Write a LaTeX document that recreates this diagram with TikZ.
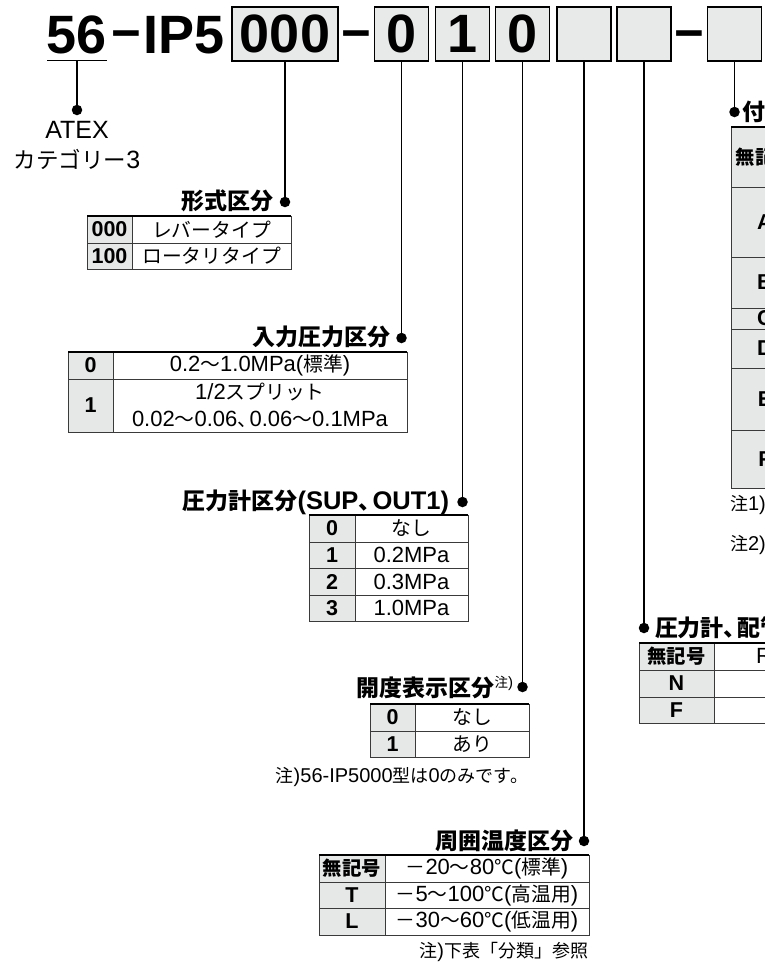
\documentclass[tikz,border=0pt]{standalone}
\usepackage{fontspec}
\setmainfont{Liberation Sans}
\newfontfamily\jp[Scale=0.9]{Noto Sans CJK JP}
\newcommand\J[1]{{\jp #1}}
\newcommand\fs[1]{\fontsize{#1}{#1}\selectfont}
\newcommand\tenc{\J{、}\kern-0.35em}
\definecolor{boxgray}{HTML}{E8E9E9}
\definecolor{keygray}{HTML}{E6E7E7}
\definecolor{tgray}{HTML}{3A3A3A}
\begin{document}
\begin{tikzpicture}[x=1pt,y=-1pt,
  every node/.style={inner sep=0pt, outer sep=0pt},
  codebox/.style={draw=black, line width=1.8pt, fill=boxgray, minimum width=54pt, minimum height=54pt, font=\fs{54}\bfseries},
  dashtxt/.style={font=\fs{51}\bfseries, anchor=base},
  conn/.style={line width=1.6pt, draw=black},
  dotn/.style={circle, fill=black, minimum size=10.5pt},
  lbl/.style={font=\fs{25.5}\bfseries},
  keyt/.style={font=\fs{21.5}\bfseries},
  valt/.style={font=\fs{22}},
  notet/.style={font=\fs{20}},
  tline/.style={line width=1pt, draw=tgray},
  ttop/.style={line width=1.8pt, draw=black},
]
\useasboundingbox (0,0) rectangle (765,962);
\clip (0,0) rectangle (765,962);

% ---------- model code ----------
\node[font=\fs{54}\bfseries, anchor=base] (t56) at (77,53) {56};
\node[dashtxt] (d1) at (126,50) {−};
\node[font=\fs{54}\bfseries, anchor=base west] (tip) at (143,53) {IP5};
\node[codebox, minimum width=106pt] (b000) at (285,34) {000};
\node[dashtxt] (d2) at (356.5,50) {−};
\node[codebox] (b0) at (401.5,34) {0};
\node[codebox] (b1) at (462.5,34) {1};
\node[codebox] (b0b) at (522.5,34) {0};
\node[codebox] (bx1) at (584,34) {};
\node[codebox] (bx2) at (644,34) {};
\node[dashtxt] (d3) at (689.5,50) {−};
\node[codebox] (bx3) at (734.5,34) {};
\draw[line width=1.5pt] (47,60.5) -- (107,60.5);
\coordinate (ul) at (77,60.5);

% ---------- dots ----------
\node[dotn] (p56) at (77,110) {};
\node[dotn] (p1) at (285,202) {};
\node[dotn] (p2) at (401.5,338) {};
\node[dotn] (p3) at (462.5,502) {};
\node[dotn] (p4) at (522.5,687) {};
\node[dotn] (p5) at (584,841) {};
\node[dotn] (p6) at (644,628) {};
\node[dotn] (p7) at (734.5,112) {};

\draw[conn] (ul) -- (p56.center);
\draw[conn] (b000.south) -- (p1.center);
\draw[conn] (b0.south) -- (p2.center);
\draw[conn] (b1.south) -- (p3.center);
\draw[conn] (b0b.south) -- (p4.center);
\draw[conn] (bx1.south) -- (p5.center);
\draw[conn] (bx2.south) -- (p6.center);
\draw[conn] (bx3.south) -- (p7.center);

% ---------- labels ----------
\node[font=\fs{25}, anchor=base] (atex) at (77,138) {ATEX};
\node[font=\fs{25}, anchor=base] (atex2) at (77,168) {\J{カテゴリー}3};
\node[lbl, anchor=east] (l1) at (273,201) {\J{形式区分}};
\node[lbl, anchor=east] (l2) at (390,337) {\J{入力圧力区分}};
\node[lbl, anchor=east] (l3) at (449,502) {\J{圧力計区分}(SUP\tenc OUT1)};
\node[lbl, anchor=east] (l4) at (513,687) {\J{開度表示区分}\raisebox{9pt}{\mdseries\fs{15}\J{注})}};
\node[lbl, anchor=east] (l5) at (573,841) {\J{周囲温度区分}};
\node[lbl, anchor=west] (l6) at (655,628) {\J{圧力計}\tenc\J{配管}};
\node[lbl, anchor=west] (l7) at (742,112) {\J{付}};

% ---------- T1 形式区分 ----------
\fill[keygray] (87,216) rectangle (132,269);
\draw[tline] (87,216) rectangle (291,269);
\draw[tline] (132,216) -- (132,269) (87,243) -- (291,243);
\draw[ttop] (87,216) -- (291,216);
\node[keyt] (t1k1) at (109.5,229.5) {000};
\node[keyt] (t1k2) at (109.5,256) {100};
\node[valt] (t1v1) at (211.5,229.5) {\J{レバータイプ}};
\node[valt] (t1v2) at (211.5,256) {\J{ロータリタイプ}};

% ---------- T2 入力圧力区分 ----------
\fill[keygray] (68,352) rectangle (113,432);
\draw[tline] (68,352) rectangle (407,432);
\draw[tline] (113,352) -- (113,432) (68,379) -- (407,379);
\draw[ttop] (68,352) -- (407,352);
\node[keyt] (t2k1) at (90.5,365.5) {0};
\node[keyt] (t2k2) at (90.5,405.5) {1};
\node[valt] (t2v1) at (260,365.5) {0.2\J{～}1.0MPa(\J{標準})};
\node[font=\fontsize{22}{27}\selectfont, align=center] (t2v2) at (260,405.5) {1/2\J{スプリット}\\0.02\J{～}0.06\tenc 0.06\J{～}0.1MPa};

% ---------- T3 圧力計区分 ----------
\fill[keygray] (309,515) rectangle (355,621);
\draw[tline] (309,515) rectangle (468,621);
\draw[tline] (355,515) -- (355,621) (309,542) -- (468,542) (309,568) -- (468,568) (309,595) -- (468,595);
\draw[ttop] (309,515) -- (468,515);
\node[keyt] (t3k1) at (332,528.5) {0};
\node[keyt] (t3k2) at (332,555) {1};
\node[keyt] (t3k3) at (332,581.5) {2};
\node[keyt] (t3k4) at (332,608) {3};
\node[valt] (t3v1) at (411.5,528.5) {\J{なし}};
\node[valt] (t3v2) at (411.5,555) {0.2MPa};
\node[valt] (t3v3) at (411.5,581.5) {0.3MPa};
\node[valt] (t3v4) at (411.5,608) {1.0MPa};

% ---------- T4 開度表示区分 ----------
\fill[keygray] (370,704) rectangle (415,757);
\draw[tline] (370,704) rectangle (529,757);
\draw[tline] (415,704) -- (415,757) (370,731) -- (529,731);
\draw[ttop] (370,704) -- (529,704);
\node[keyt] (t4k1) at (392.5,717.5) {0};
\node[keyt] (t4k2) at (392.5,744) {1};
\node[valt] (t4v1) at (472,717.5) {\J{なし}};
\node[valt] (t4v2) at (472,744) {\J{あり}};
\node[notet, anchor=east] (n4) at (528,777) {\J{注})56-IP5000\J{型は}0\J{のみです。}};

% ---------- T5 周囲温度区分 ----------
\fill[keygray] (319,855) rectangle (385,935);
\draw[tline] (319,855) rectangle (589,935);
\draw[tline] (385,855) -- (385,935) (319,882) -- (589,882) (319,908) -- (589,908);
\draw[ttop] (319,855) -- (589,855);
\node[keyt] (t5k1) at (352,868.5) {\J{無記号}};
\node[keyt] (t5k2) at (352,895) {T};
\node[keyt] (t5k3) at (352,921.5) {L};
\node[valt] (t5v1) at (487,868.5) {\J{－}20\J{～}80\J{℃}(\J{標準})};
\node[valt] (t5v2) at (487,895) {\J{－}5\J{～}100\J{℃}(\J{高温用})};
\node[valt] (t5v3) at (487,921.5) {\J{－}30\J{～}60\J{℃}(\J{低温用})};
\node[notet, anchor=east] (n5) at (588,952) {\J{注})\J{下表「分類」参照}};

% ---------- T6 付 (cut at right edge) ----------
\fill[keygray] (731,127) rectangle (799,488);
\draw[tline] (731,127) rectangle (900,488);
\draw[tline] (799,127) -- (799,488)
  (731,187) -- (900,187) (731,257) -- (900,257) (731,308) -- (900,308)
  (731,329) -- (900,329) (731,368) -- (900,368) (731,430) -- (900,430);
\draw[ttop] (731,127) -- (900,127);
\node[keyt] (t6k1) at (765,157) {\J{無記号}};
\node[keyt] (t6k2) at (765,222) {A};
\node[keyt] (t6k3) at (765,282.5) {B};
\node[keyt] (t6k4) at (765,318.5) {C};
\node[keyt] (t6k5) at (765,348.5) {D};
\node[keyt] (t6k6) at (765,399) {E};
\node[keyt] (t6k7) at (765,459) {F};
\node[notet, anchor=west] (n6a) at (730,505) {\J{注}1)};
\node[notet, anchor=west] (n6b) at (730,545) {\J{注}2)};

% ---------- T7 圧力計、配管 (cut at right edge) ----------
\fill[keygray] (639,643) rectangle (714,723);
\draw[tline] (639,643) rectangle (900,723);
\draw[tline] (714,643) -- (714,723) (639,670) -- (900,670) (639,697) -- (900,697);
\draw[ttop] (639,643) -- (900,643);
\node[keyt] (t7k1) at (676.5,656.5) {\J{無記号}};
\node[keyt] (t7k2) at (676.5,683.5) {N};
\node[keyt] (t7k3) at (676.5,710) {F};
\node[valt, anchor=west] (t7v1) at (756,656.5) {Rc};
\end{tikzpicture}
\end{document}
